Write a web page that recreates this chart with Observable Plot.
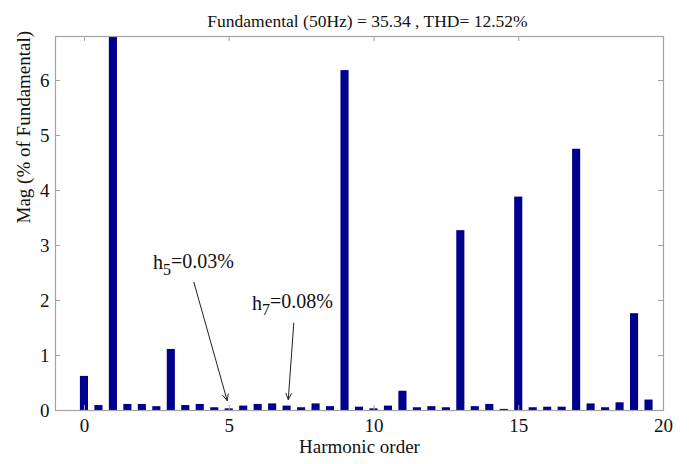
<!DOCTYPE html>
<html><head><meta charset="utf-8">
<script src="https://cdn.jsdelivr.net/npm/d3@7"></script>
<script src="https://cdn.jsdelivr.net/npm/@observablehq/plot@0.6"></script>
<style>body{margin:0;background:#fff} svg{display:block} svg text{font-family:'Liberation Serif','Times New Roman',serif}</style>
</head><body><div id="chart"></div>
<script>
const harmonicOrder = [0,0.5,1,1.5,2,2.5,3,3.5,4,4.5,5,5.5,6,6.5,7,7.5,8,8.5,9,9.5,10,10.5,11,11.5,12,12.5,13,13.5,14,14.5,15,15.5,16,16.5,17,17.5,18,18.5,19,19.5];
const magnitude = [0.62,0.09,100,0.11,0.11,0.07,1.11,0.09,0.11,0.05,0.03,0.08,0.11,0.12,0.08,0.05,0.12,0.07,6.18,0.06,0.03,0.08,0.35,0.05,0.07,0.05,3.27,0.07,0.11,0.02,3.88,0.05,0.06,0.06,4.75,0.12,0.05,0.14,1.76,0.19];
const xTicks = [0,5,10,15,20];
const yTicks = [0,1,2,3,4,5,6];
const xDomain = [-1, 20];
const yDomain = [0, 6.8];
const titleText = "Fundamental (50Hz) = 35.34 , THD= 12.52%";
const xLabel = "Harmonic order";
const yLabel = "Mag (% of Fundamental)";
const annBase = ["h", "h"];
const annSub = ["5", "7"];
const annRest = ["=0.03%", "=0.08%"];
const annTextX = [2.37, 5.79];
const annTextY = [2.69, 1.95];
const arrowX1 = [3.78, 7.23];
const arrowY1 = [2.33, 1.59];
const arrowX2 = [4.93, 7.04];
const arrowY2 = [0.18, 0.2];

const W = 689, H = 464, mL = 55, mR = 26, mT = 36, mB = 54;
const barW = 0.28;
const font = "'Liberation Serif', 'Times New Roman', serif";
const frameColor = "#a3a3a3";
const tlx = 5 * (xDomain[1] - xDomain[0]) / (W - mL - mR);
const tly = 5 * (yDomain[1] - yDomain[0]) / (H - mT - mB);

const bars = harmonicOrder.map((h, i) => ({h, v: magnitude[i]}));
const anns = annBase.map((b, i) => ({key: b + annSub[i] + annRest[i], x: annTextX[i], y: annTextY[i], x1: arrowX1[i], y1: arrowY1[i], x2: arrowX2[i], y2: arrowY2[i]}));

const chart = Plot.plot({
  width: W, height: H,
  marginLeft: mL, marginRight: mR, marginTop: mT, marginBottom: mB,
  style: {fontFamily: font, background: "#fff", color: "#111", overflow: "visible"},
  x: {domain: xDomain, ticks: xTicks},
  y: {domain: yDomain, ticks: yTicks},
  marks: [
    Plot.rectY(bars, {x1: d => d.h - barW / 2, x2: d => d.h + barW / 2, y1: 0, y2: "v", fill: "#00008e", clip: true}),
    Plot.frame({stroke: frameColor, strokeWidth: 1.2}),
    Plot.ruleX(xTicks, {x: d => d, y1: yDomain[0], y2: yDomain[0] + tly, stroke: frameColor}),
    Plot.ruleX(xTicks, {x: d => d, y1: yDomain[1], y2: yDomain[1] - tly, stroke: frameColor}),
    Plot.ruleY(yTicks, {y: d => d, x1: xDomain[0], x2: xDomain[0] + tlx, stroke: frameColor}),
    Plot.ruleY(yTicks, {y: d => d, x1: xDomain[1], x2: xDomain[1] - tlx, stroke: frameColor}),
    Plot.axisX(xTicks, {tickSize: 0, tickPadding: 8, fontSize: 19, label: null, tickFormat: d => String(d)}),
    Plot.axisY(yTicks, {tickSize: 0, tickPadding: 6, fontSize: 19, label: null, tickFormat: d => String(d)}),
    Plot.text([titleText], {text: d => d, frameAnchor: "top", dy: -22, dx: 8, fontSize: 17.5, fontFamily: font, fill: "#111"}),
    Plot.text([xLabel], {text: d => d, frameAnchor: "bottom", dy: 42, fontSize: 19, fontFamily: font, fill: "#111"}),
    Plot.text([yLabel], {text: d => d, frameAnchor: "left", dx: -32, rotate: -90, fontSize: 19, fontFamily: font, fill: "#111"}),
    Plot.arrow(anns, {x1: "x1", y1: "y1", x2: "x2", y2: "y2", stroke: "#222", strokeWidth: 1, headLength: 10, headAngle: 50}),
    Plot.text(anns, {x: "x", y: "y", text: "key", textAnchor: "start", fontSize: 20, fontFamily: font, fill: "#111"})
  ]
});
document.getElementById("chart").appendChild(chart);

// subscripts for annotation labels
annBase.forEach((b, i) => {
  const key = b + annSub[i] + annRest[i];
  d3.select(chart).selectAll("text").filter(function () { return this.textContent === key; }).each(function () {
    const t = d3.select(this);
    t.text(null);
    t.append("tspan").text(b);
    t.append("tspan").attr("dy", "0.35em").attr("font-size", "0.8em").text(annSub[i]);
    t.append("tspan").attr("dy", "-0.35em").text(annRest[i]);
  });
});
</script></body></html>
